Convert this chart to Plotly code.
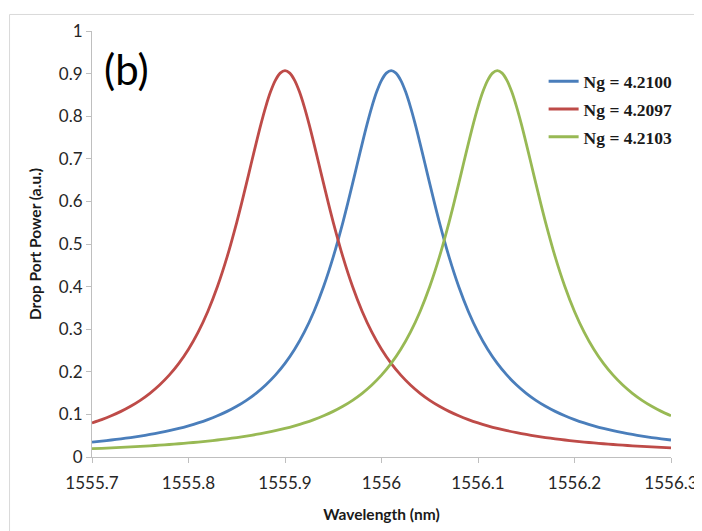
import plotly.graph_objects as go

wavelength = [round(1555.70 + 0.01 * i, 2) for i in range(61)]

ng_4_2100 = [0.0351, 0.0374, 0.0399, 0.0427, 0.0457, 0.0491, 0.0529, 0.0571, 0.0618, 0.0671,
             0.0732, 0.0800, 0.0878, 0.0968, 0.1071, 0.1191, 0.1331, 0.1495, 0.1690, 0.1921,
             0.2198, 0.2530, 0.2932, 0.3417, 0.4002, 0.4698, 0.5510, 0.6416, 0.7358, 0.8220,
             0.8842, 0.9070, 0.8842, 0.8220, 0.7358, 0.6416, 0.5510, 0.4698, 0.4002, 0.3417,
             0.2932, 0.2530, 0.2198, 0.1921, 0.1690, 0.1495, 0.1331, 0.1191, 0.1071, 0.0968,
             0.0878, 0.0800, 0.0732, 0.0671, 0.0618, 0.0571, 0.0529, 0.0491, 0.0457, 0.0427,
             0.0399]

ng_4_2097 = [0.0800, 0.0878, 0.0968, 0.1071, 0.1191, 0.1331, 0.1495, 0.1690, 0.1921, 0.2198,
             0.2530, 0.2932, 0.3417, 0.4002, 0.4698, 0.5510, 0.6416, 0.7358, 0.8220, 0.8842,
             0.9070, 0.8842, 0.8220, 0.7358, 0.6416, 0.5510, 0.4698, 0.4002, 0.3417, 0.2932,
             0.2530, 0.2198, 0.1921, 0.1690, 0.1495, 0.1331, 0.1191, 0.1071, 0.0968, 0.0878,
             0.0800, 0.0732, 0.0671, 0.0618, 0.0571, 0.0529, 0.0491, 0.0457, 0.0427, 0.0399,
             0.0374, 0.0351, 0.0330, 0.0311, 0.0294, 0.0278, 0.0263, 0.0249, 0.0237, 0.0225,
             0.0214]

ng_4_2103 = [0.0195, 0.0204, 0.0214, 0.0225, 0.0237, 0.0249, 0.0263, 0.0278, 0.0294, 0.0311,
             0.0330, 0.0351, 0.0374, 0.0399, 0.0427, 0.0457, 0.0491, 0.0529, 0.0571, 0.0618,
             0.0671, 0.0732, 0.0800, 0.0878, 0.0968, 0.1071, 0.1191, 0.1331, 0.1495, 0.1690,
             0.1921, 0.2198, 0.2530, 0.2932, 0.3417, 0.4002, 0.4698, 0.5510, 0.6416, 0.7358,
             0.8220, 0.8842, 0.9070, 0.8842, 0.8220, 0.7358, 0.6416, 0.5510, 0.4698, 0.4002,
             0.3417, 0.2932, 0.2530, 0.2198, 0.1921, 0.1690, 0.1495, 0.1331, 0.1191, 0.1071,
             0.0968]

# extra readings near each resonance peak (half-step wavelengths)
peak_x_4_2100 = [1555.965, 1555.975, 1555.985, 1555.995, 1556.005,
                 1556.015, 1556.025, 1556.035, 1556.045, 1556.055]
peak_x_4_2097 = [1555.855, 1555.865, 1555.875, 1555.885, 1555.895,
                 1555.905, 1555.915, 1555.925, 1555.935, 1555.945]
peak_x_4_2103 = [1556.075, 1556.085, 1556.095, 1556.105, 1556.115,
                 1556.125, 1556.135, 1556.145, 1556.155, 1556.165]
peak_y_4_2100 = [0.5954, 0.6889, 0.7809, 0.8572, 0.9012, 0.9012, 0.8572, 0.7809, 0.6889, 0.5954]
peak_y_4_2097 = [0.5954, 0.6889, 0.7809, 0.8572, 0.9012, 0.9012, 0.8572, 0.7809, 0.6889, 0.5954]
peak_y_4_2103 = [0.5954, 0.6889, 0.7809, 0.8572, 0.9012, 0.9012, 0.8572, 0.7809, 0.6889, 0.5954]

series_names = ["Ng = 4.2100", "Ng = 4.2097", "Ng = 4.2103"]
series_colors = ["#4A7EBB", "#BE4B48", "#98B954"]
series_values = [ng_4_2100, ng_4_2097, ng_4_2103]
series_peak_x = [peak_x_4_2100, peak_x_4_2097, peak_x_4_2103]
series_peak_y = [peak_y_4_2100, peak_y_4_2097, peak_y_4_2103]

x_ticks = [1555.7, 1555.8, 1555.9, 1556.0, 1556.1, 1556.2, 1556.3]
x_tick_labels = ["1555.7", "1555.8", "1555.9", "1556", "1556.1", "1556.2", "1556.3"]
y_ticks = [0, 0.1, 0.2, 0.3, 0.4, 0.5, 0.6, 0.7, 0.8, 0.9, 1]
y_tick_labels = ["0", "0.1", "0.2", "0.3", "0.4", "0.5", "0.6", "0.7", "0.8", "0.9", "1"]

fig = go.Figure()
for idx in range(3):
    pts = sorted(zip(wavelength + series_peak_x[idx], series_values[idx] + series_peak_y[idx]))
    xs = [p[0] for p in pts]
    ys = [p[1] for p in pts]
    fig.add_trace(go.Scatter(x=xs, y=ys, mode="lines", name=series_names[idx],
                             legendgroup="g%d" % idx,
                             line=dict(color=series_colors[idx], width=2.8, shape="spline", smoothing=0.8)))

axis_color = "#BFBFBF"
sans = "Lato, Open Sans, sans-serif"
tick_font = dict(family=sans, size=17, color="#262626")
title_font = dict(family=sans, size=15.5, color="#1a1a1a", weight="bold")

fig.update_layout(
    width=702, height=531,
    margin=dict(l=84, r=35, t=18, b=82),
    paper_bgcolor="white", plot_bgcolor="white",
    showlegend=True,
    legend=dict(x=0.78, y=0.924, xanchor="left", yanchor="top",
                font=dict(family="Liberation Serif, serif", size=17.5, color="#1a1a1a", weight="bold"),
                bgcolor="rgba(0,0,0,0)", tracegroupgap=2, itemwidth=30),
    xaxis=dict(range=[1555.7, 1556.3], tickvals=x_ticks, ticktext=x_tick_labels,
               showgrid=False, zeroline=False, showline=True, linecolor=axis_color, linewidth=1,
               ticks="outside", tickcolor=axis_color, ticklen=5, tickfont=tick_font,
               ticklabelstandoff=6,
               title=dict(text="Wavelength (nm)", font=title_font, standoff=16)),
    yaxis=dict(range=[0, 1], tickvals=y_ticks, ticktext=y_tick_labels,
               showgrid=False, zeroline=False, showline=True, linecolor=axis_color, linewidth=1,
               ticks="outside", tickcolor=axis_color, ticklen=5, tickfont=tick_font,
               title=dict(text="Drop Port Power (a.u.)", font=title_font, standoff=13)),
    annotations=[dict(text="(b)", xref="paper", yref="paper", x=0.017, y=0.91,
                      xanchor="left", yanchor="middle", showarrow=False,
                      font=dict(family=sans, size=42, color="black"))],
    shapes=[dict(type="rect", xref="paper", yref="paper", x0=-0.1424, x1=1.2, y0=-0.4, y1=1.0388,
                 line=dict(color="#D9D9D9", width=1), fillcolor="rgba(0,0,0,0)", layer="below")],
)

fig.write_html("out.html")
